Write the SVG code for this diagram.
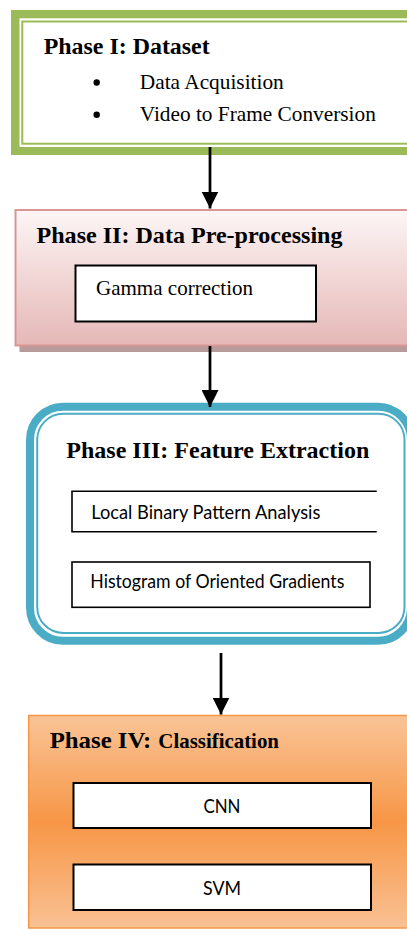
<svg xmlns="http://www.w3.org/2000/svg" width="407" height="929" viewBox="0 0 407 929">
<defs>
<linearGradient id="pinkGrad" x1="0" y1="0" x2="0" y2="1">
<stop offset="0" stop-color="#fdf6f6"/>
<stop offset="0.5" stop-color="#f0d6d5"/>
<stop offset="1" stop-color="#e5b8b7"/>
</linearGradient>
<linearGradient id="orangeGrad" x1="0" y1="0" x2="0" y2="1">
<stop offset="0" stop-color="#f9c497"/>
<stop offset="0.5" stop-color="#f79646"/>
<stop offset="1" stop-color="#f9c193"/>
</linearGradient>
<marker id="arrow" markerUnits="userSpaceOnUse" viewBox="0 0 17 17" refX="17" refY="8.5" markerWidth="17" markerHeight="17" orient="auto">
<path d="M0,0 L17,8.5 L0,17 z" fill="#000"/>
</marker>
<style>
.title{font-family:"Liberation Serif","Times New Roman",serif;font-weight:bold;font-size:24px;fill:#000}
.body{font-family:"Liberation Serif","Times New Roman",serif;font-size:21px;fill:#000}
.sans{font-family:Lato,"Open Sans",sans-serif;font-size:19px;fill:#000}
.box{fill:#fff;stroke:#000;stroke-width:2}
.conn{stroke:#000;stroke-width:2.75;fill:none;marker-end:url(#arrow)}
</style>
</defs>

<g id="phase1">
<rect x="11" y="10" width="410" height="145" fill="#9bbb59"/>
<rect x="19.5" y="18.3" width="400" height="128.7" fill="#fff"/>
<rect x="22.3" y="21.5" width="400" height="122.2" fill="none" stroke="#9bbb59" stroke-width="2"/>
<text class="title" x="43.7" y="54" textLength="166" lengthAdjust="spacingAndGlyphs">Phase I: Dataset</text>
<circle cx="96.7" cy="82.5" r="3.2" fill="#000"/>
<circle cx="96.7" cy="114.8" r="3.2" fill="#000"/>
<text class="body" x="139.8" y="89.3" textLength="144" lengthAdjust="spacingAndGlyphs">Data Acquisition</text>
<text class="body" x="139.8" y="120.7" textLength="236" lengthAdjust="spacingAndGlyphs">Video to Frame Conversion</text>
</g>

<g id="phase2">
<rect x="19.5" y="216" width="400" height="136" fill="#b79b9b"/>
<rect x="15.5" y="210" width="400" height="135.5" fill="url(#pinkGrad)" stroke="#d99694" stroke-width="2"/>
<text class="title" x="36.5" y="242.7" textLength="306" lengthAdjust="spacingAndGlyphs">Phase II: Data Pre-processing</text>
<g id="gamma">
<rect class="box" x="75.5" y="265.5" width="240.5" height="56"/>
<text class="body" x="96" y="295" textLength="157" lengthAdjust="spacingAndGlyphs">Gamma correction</text>
</g>
</g>

<g id="phase3">
<rect x="30" y="406.7" width="381" height="234.1" rx="33" ry="33" fill="#fff" stroke="#4bacc6" stroke-width="8"/>
<rect x="37.2" y="413.8" width="367.3" height="219.1" rx="26" ry="26" fill="#fff" stroke="#4bacc6" stroke-width="2"/>
<text class="title" x="66.3" y="458.3" textLength="303" lengthAdjust="spacingAndGlyphs">Phase III: Feature Extraction</text>
<g id="lbp">
<path d="M376.7,491.3 H72 V531.7 H376.7" fill="#fff" stroke="#000" stroke-width="1.6"/>
<text class="sans" x="91.3" y="519" textLength="229" lengthAdjust="spacingAndGlyphs">Local Binary Pattern Analysis</text>
</g>
<g id="hog">
<rect x="72" y="562" width="298" height="45.3" fill="#fff" stroke="#000" stroke-width="1.6"/>
<text class="sans" x="90.3" y="588.3" textLength="254" lengthAdjust="spacingAndGlyphs">Histogram of Oriented Gradients</text>
</g>
</g>

<g id="phase4">
<rect x="28.7" y="715.5" width="400" height="212.5" fill="url(#orangeGrad)" stroke="#f79646" stroke-width="1.5"/>
<text class="title" x="49.7" y="748.3"><tspan textLength="101.7" lengthAdjust="spacingAndGlyphs">Phase IV:</tspan><tspan x="158.3" font-size="21" textLength="120.7" lengthAdjust="spacingAndGlyphs">Classification</tspan></text>
<g id="cnn">
<rect class="box" x="73.5" y="783" width="297.5" height="45"/>
<text class="sans" x="222" y="813" text-anchor="middle" font-size="20" textLength="37" lengthAdjust="spacingAndGlyphs">CNN</text>
</g>
<g id="svm">
<rect class="box" x="73.5" y="864.5" width="297.5" height="45.5"/>
<text class="sans" x="222" y="895" text-anchor="middle" font-size="20" textLength="38" lengthAdjust="spacingAndGlyphs">SVM</text>
</g>
</g>

<g id="connectors">
<line class="conn" x1="210" y1="147" x2="210" y2="208.5"/>
<line class="conn" x1="210" y1="346" x2="210" y2="407"/>
<line class="conn" x1="221" y1="653" x2="221" y2="714.5"/>
</g>
</svg>
